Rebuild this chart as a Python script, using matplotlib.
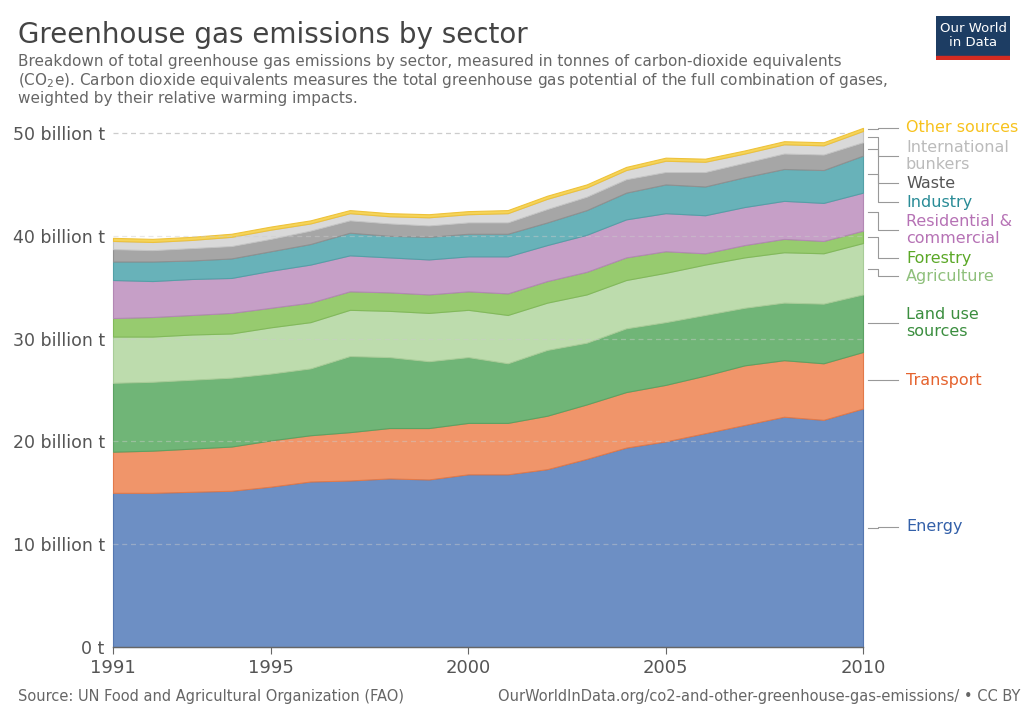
import matplotlib
matplotlib.use("Agg")
import matplotlib.pyplot as plt
import numpy as np

years = list(range(1991, 2011))
# cumulative tops (billion t)
c_energy = [15.0,15.0,15.1,15.2,15.6,16.1,16.2,16.4,16.3,16.8,16.8,17.3,18.3,19.4,20.0,20.8,21.6,22.4,22.1,23.2]
c_transport = [19.0,19.1,19.3,19.5,20.1,20.6,20.9,21.3,21.3,21.8,21.8,22.5,23.6,24.8,25.5,26.4,27.4,27.9,27.6,28.7]
c_landuse = [25.7,25.8,26.0,26.2,26.6,27.1,28.3,28.2,27.8,28.2,27.6,28.9,29.6,31.0,31.6,32.3,33.0,33.5,33.4,34.3]
c_agri = [30.2,30.2,30.4,30.5,31.1,31.6,32.8,32.7,32.5,32.8,32.3,33.5,34.3,35.7,36.4,37.2,37.9,38.4,38.3,39.3]
c_forest = [32.0,32.1,32.3,32.5,33.0,33.5,34.6,34.5,34.3,34.6,34.4,35.6,36.5,37.9,38.5,38.3,39.1,39.7,39.5,40.5]
c_resid = [35.7,35.6,35.8,35.9,36.6,37.2,38.1,37.9,37.7,38.0,38.0,39.1,40.1,41.6,42.2,42.0,42.8,43.4,43.2,44.2]
c_industry = [37.5,37.5,37.6,37.8,38.5,39.2,40.3,40.0,39.9,40.2,40.2,41.3,42.5,44.2,45.0,44.8,45.7,46.5,46.4,47.8]
c_waste = [38.7,38.6,38.8,39.0,39.7,40.5,41.5,41.2,41.0,41.3,41.3,42.6,43.8,45.5,46.2,46.2,47.1,48.0,47.9,49.1]
c_bunkers = [39.5,39.4,39.6,39.9,40.6,41.2,42.2,41.9,41.8,42.1,42.2,43.6,44.7,46.4,47.3,47.2,48.0,48.9,48.8,50.2]
other = [0.3]*20

cums = [c_energy, c_transport, c_landuse, c_agri, c_forest, c_resid, c_industry, c_waste, c_bunkers]
series = []
prev = np.zeros(20)
for c in cums:
    c = np.array(c)
    series.append(c - prev)
    prev = c
series.append(np.array(other))

names = ["Energy","Transport","Land use\nsources","Agriculture","Forestry","Residential &\ncommercial","Industry","Waste","International\nbunkers","Other sources"]
fills = ["#6D8FC4","#F0956A","#70B577","#BDDCAD","#97CB6F","#C69FC7","#68B2B9","#A6A6A6","#D9D9D9","#F5D45A"]
edges = ["#5577B0","#E27A4A","#5CA263","#A8CC98","#82B95A","#B388B4","#54A0A7","#909090","#C4C4C4","#EEC23A"]
tcols = ["#3360A9","#E5632E","#3B8E3F","#8FC07C","#5BA827","#B672B5","#2A8C97","#555555","#BBBBBB","#F7C21D"]
label_px = [527, 380, 323, 276, 258, 230, 202, 183, 156, 128]

W, H = 1028, 726
fig = plt.figure(figsize=(W/100, H/100), dpi=100)
ax_bottom = 647
ax = fig.add_axes([113/W, (H-ax_bottom)/H, 750/W, 514*52/50/H])
ax.set_xlim(1991, 2010)
ax.set_ylim(0, 52)

base = np.zeros(20)
for s, f, e in zip(series, fills, edges):
    ax.fill_between(years, base, base+s, facecolor=f, edgecolor=e, linewidth=0.8, clip_on=False)
    base = base + s

for sp in ax.spines.values():
    sp.set_visible(False)
ax.set_yticks([0,10,20,30,40,50])
ax.set_yticklabels(["0 t","10 billion t","20 billion t","30 billion t","40 billion t","50 billion t"])
for v in [10,20,30,40,50]:
    ax.axhline(v, color="#cccccc", lw=0.9, ls=(0,(4,3)), zorder=0.5 if v==50 else 3, alpha=1 if v==50 else 0.45)
ax.tick_params(axis="y", length=0, labelsize=12.5, labelcolor="#555555", pad=6)

ax.set_xticks([1991,1995,2000,2005,2010])
ax.tick_params(axis="x", length=5, color="#666666", labelsize=13, labelcolor="#555555")
ax.axhline(0, color="#666666", lw=1, clip_on=False)

def px2val(py):
    return (ax_bottom - py) * 50 / 514
base = np.zeros(20)
for s, name, tc, lp in zip(series, names, tcols, label_px):
    mid = base[-1] + s[-1]/2
    base = base + s
    ly = px2val(lp)
    xs = [(x-113)/750 for x in (868, 878, 878, 898)]
    ys = [mid, mid, ly, ly]
    ax.plot(xs, ys, color="#999999", lw=0.8, transform=ax.get_yaxis_transform(), clip_on=False)
    ax.text((906-113)/750, ly, name, color=tc, fontsize=11.5, va="center", ha="left",
            transform=ax.get_yaxis_transform(), linespacing=1.1)

fig.text(18/W, 1-35/H, "Greenhouse gas emissions by sector", fontsize=20, color="#444444", va="center")
fig.text(18/W, 1-80/H,
         "Breakdown of total greenhouse gas emissions by sector, measured in tonnes of carbon-dioxide equivalents\n"
         "(CO$_2$e). Carbon dioxide equivalents measures the total greenhouse gas potential of the full combination of gases,\n"
         "weighted by their relative warming impacts.", fontsize=11, color="#666666", va="center", linespacing=1.15)
fig.text(18/W, 1-697/H, "Source: UN Food and Agricultural Organization (FAO)", fontsize=10.5, color="#666666", va="center")
fig.text(1-8/W, 1-697/H, "OurWorldInData.org/co2-and-other-greenhouse-gas-emissions/ • CC BY", fontsize=10.5, color="#666666", va="center", ha="right")

lax = fig.add_axes([936/W, 1-60/H, 74/W, 44/H])
lax.set_xlim(0,1); lax.set_ylim(0,1); lax.axis("off")
lax.add_patch(plt.Rectangle((0,0.1),1,0.9,color="#1D3D63"))
lax.add_patch(plt.Rectangle((0,0),1,0.1,color="#D42B21"))
lax.text(0.5,0.56,"Our World\nin Data",color="white",ha="center",va="center",fontsize=9.5,linespacing=1.05)

fig.savefig("out.png", dpi=100)
